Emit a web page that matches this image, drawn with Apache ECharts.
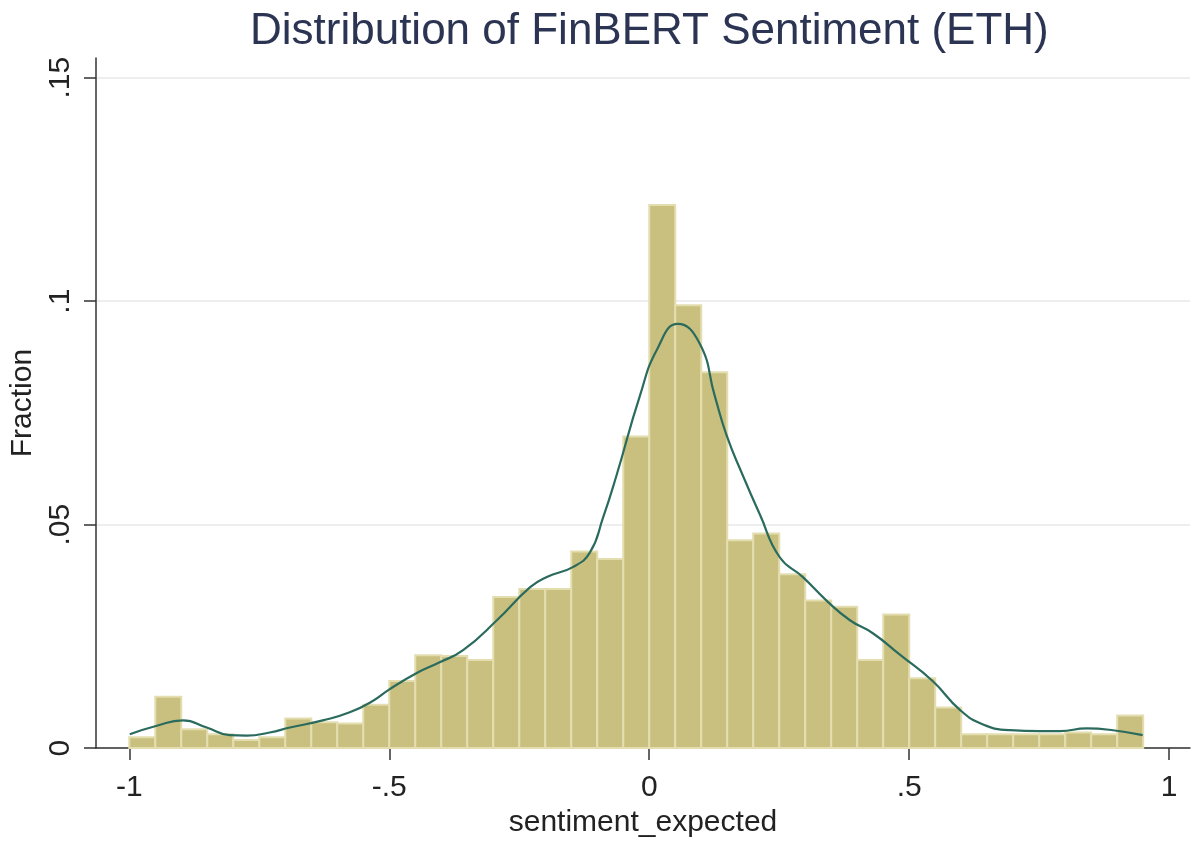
<!DOCTYPE html>
<html>
<head>
<meta charset="utf-8">
<script src="https://cdn.jsdelivr.net/npm/echarts@6/dist/echarts.min.js"></script>
<style>
  html, body { margin: 0; padding: 0; background: #ffffff; overflow: hidden; width: 1191px; height: 843px; }
  #chart { position: absolute; left: 0; top: 0; width: 1191px; height: 843px; }
</style>
</head>
<body>
<div id="chart"></div>
<script>
// ---- Data ----
const titleText = 'Distribution of FinBERT Sentiment (ETH)';
const xTitle = 'sentiment_expected';
const yTitle = 'Fraction';

const binWidth = 0.05;
const binLefts = [
  -1.00, -0.95, -0.90, -0.85, -0.80, -0.75, -0.70, -0.65, -0.60, -0.55,
  -0.50, -0.45, -0.40, -0.35, -0.30, -0.25, -0.20, -0.15, -0.10, -0.05,
   0.00,  0.05,  0.10,  0.15,  0.20,  0.25,  0.30,  0.35,  0.40,  0.45,
   0.50,  0.55,  0.60,  0.65,  0.70,  0.75,  0.80,  0.85,  0.90
];
const fractions = [
  0.0024, 0.0115, 0.0042, 0.0031, 0.0018, 0.0024, 0.0066, 0.0058, 0.0055, 0.0097,
  0.0150, 0.0208, 0.0206, 0.0197, 0.0338, 0.0356, 0.0356, 0.0440, 0.0423, 0.0697,
  0.1215, 0.0991, 0.0841, 0.0465, 0.0480, 0.0389, 0.0330, 0.0316, 0.0197, 0.0299,
  0.0156, 0.0091, 0.0031, 0.0031, 0.0031, 0.0031, 0.0035, 0.0031, 0.0073
];

// kernel density curve (scaled to fraction), sampled points
const kdeX = [
  -0.999, -0.947, -0.897, -0.851, -0.807, -0.774, -0.730, -0.691, -0.628, -0.576,
  -0.531, -0.499, -0.447, -0.403, -0.358, -0.293, -0.229, -0.197, -0.147, -0.114,
  -0.089, -0.063, -0.018, 0.015, 0.055, 0.097, 0.126, 0.149, 0.180, 0.213,
  0.251, 0.295, 0.341, 0.386, 0.430, 0.482, 0.545, 0.598, 0.642, 0.694,
  0.751, 0.790, 0.841, 0.892, 0.949
];
const kdeY = [
  0.0031, 0.0050, 0.0062, 0.0046, 0.0029, 0.0028, 0.0035, 0.0046, 0.0062, 0.0080,
  0.0106, 0.0132, 0.0168, 0.0192, 0.0219, 0.0286, 0.0360, 0.0383, 0.0405, 0.0438,
  0.0515, 0.0610, 0.0788, 0.0892, 0.0949, 0.0905, 0.0788, 0.0699, 0.0610, 0.0522,
  0.0427, 0.0383, 0.0330, 0.0286, 0.0257, 0.0209, 0.0150, 0.0085, 0.0053, 0.0040,
  0.0038, 0.0038, 0.0044, 0.0040, 0.0029
];

const xTicks = [-1, -0.5, 0, 0.5, 1];
const yTicks = [0, 0.05, 0.1, 0.15];

// ---- Build chart ----
function stataFmt(v) {
  const r = Math.round(v * 1000) / 1000;
  if (r === 0) return '0';
  let s = String(Math.abs(r));
  if (s.startsWith('0.')) s = s.slice(1);
  return (r < 0 ? '-' : '') + s;
}

const histData = binLefts.map((l, i) => [l, l + binWidth, fractions[i]]);
const kdeData = kdeX.map((x, i) => [x, kdeY[i]]);

const FONT = '"Liberation Sans", Arial, Helvetica, sans-serif';
const chart = echarts.init(document.getElementById('chart'), null, { renderer: 'canvas', width: 1191, height: 843 });

chart.setOption({
  animation: false,
  backgroundColor: '#ffffff',
  title: {
    text: titleText,
    left: 245,
    top: 5,
    textStyle: { fontFamily: FONT, fontSize: 44, fontWeight: 'normal', color: '#2b3452' }
  },
  grid: { left: 96, right: 1, top: 58, bottom: 87, containLabel: false },
  xAxis: {
    type: 'value',
    min: -1.064,
    max: 1.04,
    name: xTitle,
    nameLocation: 'middle',
    nameGap: 57,
    nameTextStyle: { fontFamily: FONT, fontSize: 30, color: '#222222' },
    axisLine: { show: true, onZero: false, lineStyle: { color: '#333333', width: 1.5 } },
    axisTick: { show: true, length: 12, customValues: xTicks, lineStyle: { color: '#333333', width: 1.5 } },
    axisLabel: { customValues: xTicks, formatter: stataFmt, margin: 25, fontFamily: FONT, fontSize: 30, color: '#222222' },
    splitLine: { show: false }
  },
  yAxis: {
    type: 'value',
    min: 0,
    max: 0.1544,
    name: yTitle,
    nameLocation: 'middle',
    nameGap: 53,
    nameRotate: 90,
    nameTextStyle: { fontFamily: FONT, fontSize: 30, color: '#222222' },
    axisLine: { show: true, onZero: false, lineStyle: { color: '#333333', width: 1.5 } },
    axisTick: { show: true, length: 12, customValues: yTicks, lineStyle: { color: '#333333', width: 1.5 } },
    axisLabel: { customValues: yTicks, formatter: stataFmt, rotate: 90, margin: 20, fontFamily: FONT, fontSize: 30, color: '#222222' },
    splitLine: { show: true, lineStyle: { color: '#e9e9e9', width: 1.5 } }
  },
  series: [
    {
      type: 'custom',
      name: 'hist',
      data: histData,
      encode: { x: [0, 1], y: 2 },
      renderItem: function (params, api) {
        const p0 = api.coord([api.value(0), 0]);
        const p1 = api.coord([api.value(1), api.value(2)]);
        return {
          type: 'rect',
          shape: { x: p0[0], y: p1[1], width: p1[0] - p0[0], height: p0[1] - p1[1] },
          style: { fill: '#c9c07f', stroke: '#e4ddb0', lineWidth: 2 }
        };
      },
      z: 2
    },
    {
      type: 'line',
      name: 'kdensity',
      data: kdeData,
      smooth: 0.5,
      showSymbol: false,
      lineStyle: { color: '#2b6b5e', width: 2.2 },
      z: 3
    }
  ]
});
</script>
</body>
</html>
